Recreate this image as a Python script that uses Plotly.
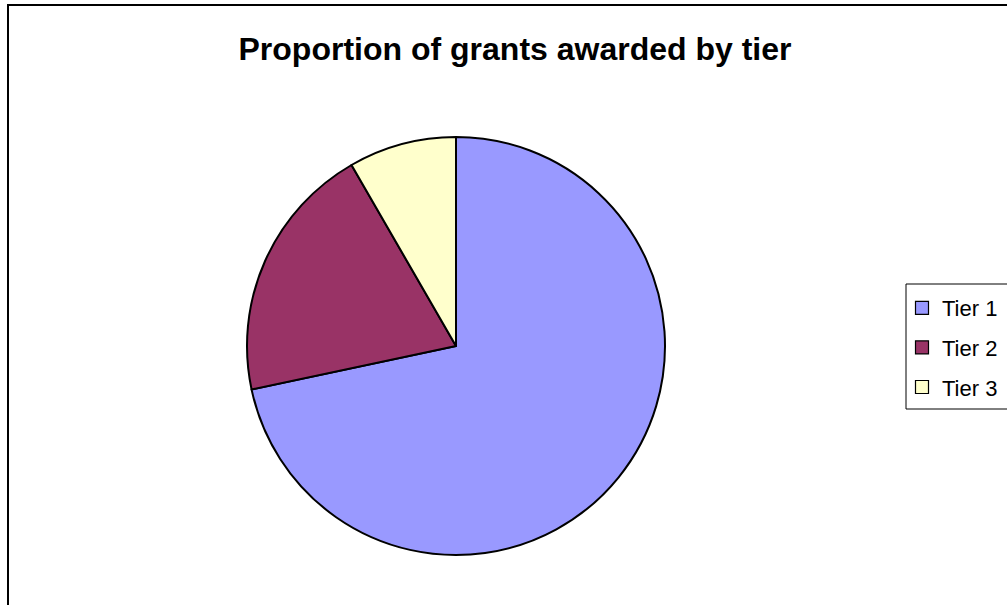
import plotly.graph_objects as go

# Grant counts per tier
tiers = ["Tier 1", "Tier 2", "Tier 3"]
grants = [43, 12, 5]
colors = ["#9999FF", "#993366", "#FFFFCC"]

W, H = 1007, 605
FONT = "Liberation Sans, Arial, sans-serif"

# Pie geometry in pixels
cx, cy, r = 456, 346, 209

fig = go.Figure()
fig.add_trace(go.Pie(
    labels=tiers,
    values=grants,
    sort=False,
    direction="clockwise",
    rotation=0,
    textinfo="none",
    hoverinfo="label+value+percent",
    showlegend=False,
    marker=dict(colors=colors, line=dict(color="black", width=2)),
    domain=dict(x=[(cx - r) / W, (cx + r) / W],
                y=[1 - (cy + r) / H, 1 - (cy - r) / H]),
))

# Legend entries, one per tier, so the entries can be spaced apart
for i, (name, col) in enumerate(zip(tiers, colors)):
    fig.add_trace(go.Scatter(
        x=[None], y=[None], mode="markers", name=name,
        legendgroup=f"g{i}",
        marker=dict(symbol="square", size=13, color=col,
                    line=dict(color="black", width=1.2)),
        hoverinfo="skip",
    ))

fig.update_layout(
    width=W, height=H,
    margin=dict(l=0, r=0, t=0, b=0),
    paper_bgcolor="white",
    plot_bgcolor="white",
    font=dict(family=FONT, color="black"),
    title=dict(text="<b>Proportion of grants awarded by tier</b>",
               font=dict(family=FONT, size=32, color="black"),
               x=515 / W, xanchor="center",
               y=1 - 49 / H, yanchor="middle"),
    xaxis=dict(visible=False),
    yaxis=dict(visible=False),
    showlegend=True,
    legend=dict(
        x=902 / W, xanchor="left",
        y=1 - 287 / H, yanchor="top",
        font=dict(family=FONT, size=22, color="black"),
        bgcolor="rgba(0,0,0,0)",
        borderwidth=0,
        tracegroupgap=8,
        traceorder="grouped",
    ),
    shapes=[
        # chart frame
        dict(type="rect", xref="paper", yref="paper",
             x0=8 / W, x1=1.05, y0=-0.05, y1=1 - 5 / H,
             line=dict(color="black", width=2), layer="above"),
        # legend box
        dict(type="rect", xref="paper", yref="paper",
             x0=906 / W, x1=1.05, y0=1 - 409 / H, y1=1 - 284 / H,
             line=dict(color="black", width=1), layer="above"),
    ],
)

fig.write_html("out.html")
